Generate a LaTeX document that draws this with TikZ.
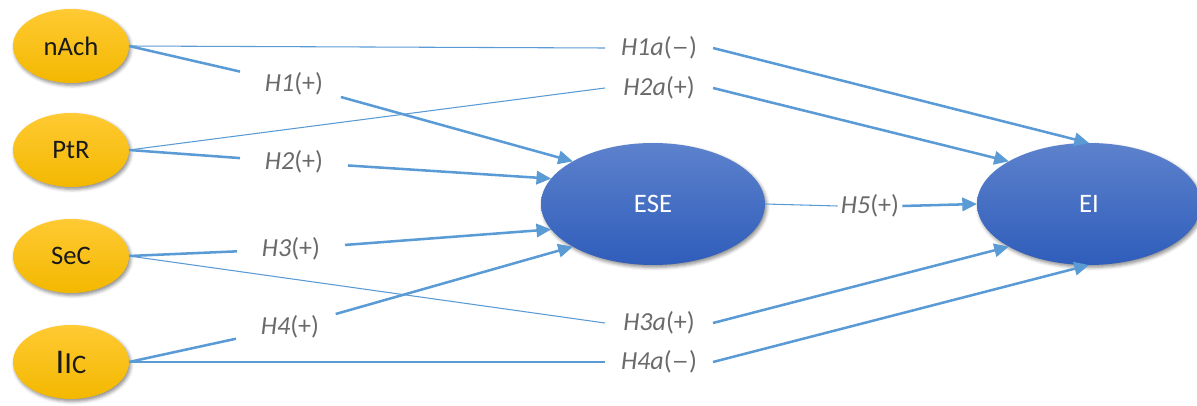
\documentclass[tikz,border=0pt]{standalone}
\usepackage{fontspec}
\setmainfont{Carlito}
\usetikzlibrary{arrows.meta,shadows.blur,shapes.geometric}
\definecolor{lineblue}{HTML}{5B9BD5}
\definecolor{labgray}{HTML}{6A6A6A}
\definecolor{goldtop}{HTML}{FFCA33}
\definecolor{goldbot}{HTML}{F3B800}
\definecolor{bluetop}{HTML}{5D82CD}
\definecolor{bluebot}{HTML}{2F5DBA}
\newcommand{\longdash}{\scalebox{1.35}[1]{–}}
\begin{document}
\begin{tikzpicture}[x=0.75pt,y=-0.75pt,
  srcnode/.style={ellipse, minimum width=87pt, minimum height=55.5pt, inner sep=0pt, outer sep=0pt,
    top color=goldtop, bottom color=goldbot, draw=none, text=black!90,
    font=\fontsize{20}{22}\selectfont,
    blur shadow={shadow xshift=1.2pt, shadow yshift=-1.8pt, shadow blur radius=2.5pt, shadow opacity=45}},
  bignode/.style={ellipse, minimum width=168pt, minimum height=91.5pt, inner sep=0pt, outer sep=0pt,
    top color=bluetop, bottom color=bluebot, draw=none, text=white,
    font=\fontsize{20}{22}\selectfont,
    blur shadow={shadow xshift=1.2pt, shadow yshift=-1.8pt, shadow blur radius=2.5pt, shadow opacity=45}},
  hlabel/.style={rectangle, minimum width=81pt, minimum height=19.5pt, inner sep=0pt, outer sep=0pt,
    text=labgray, font=\fontsize{19.5}{21}\selectfont},
  hfive/.style={rectangle, minimum height=19.5pt, inner xsep=2.5pt, inner ysep=0pt, outer sep=0pt,
    text=labgray, font=\fontsize{19.5}{21}\selectfont},
  thinline/.style={draw=lineblue, line width=0.8pt},
  thickline/.style={draw=lineblue, line width=1.9pt},
  arrowline/.style={draw=lineblue, line width=1.9pt, -{Triangle[length=11pt,width=10pt]}}
]
\useasboundingbox (0,0) rectangle (1197,406);

% source constructs
\node[srcnode] (nAch) at (71,46) {nAch};
\node[srcnode] (PtR) at (71,150) {PtR};
\node[srcnode] (SeC) at (71,256) {SeC};
\node[srcnode] (IIC) at (71,362) {{\fontsize{26}{26}\selectfont I}{\fontsize{23}{23}\selectfont I}C};

% mediator and outcome
\node[bignode] (ESE) at (653,204) {ESE};
\node[bignode] (EI) at (1089,204) {EI};

% hypothesis labels
\node[hlabel] (h1a) at (659,48) {\textit{H1a}(\longdash)};
\node[hlabel] (h2a) at (659,88) {\textit{H2a}(+)};
\node[hlabel] (h3a) at (659,323) {\textit{H3a}(+)};
\node[hlabel] (h4a) at (659,362) {\textit{H4a}(\longdash)};
\node[hlabel] (h1) at (294,84) {\textit{H1}(+)};
\node[hlabel] (h2) at (294,162) {\textit{H2}(+)};
\node[hlabel] (h3) at (291,249) {\textit{H3}(+)};
\node[hlabel] (h4) at (290,327) {\textit{H4}(+)};
\node[hfive] (h5) at (870,206) {\textit{H5}(+)};

% direct paths to EI
\draw[thinline] (nAch.east) -- (h1a.west);
\draw[arrowline] (h1a.east) -- (EI.90);
\draw[thinline] (PtR.east) -- (h2a.west);
\draw[arrowline] (h2a.east) -- (EI.152.6);
\draw[thinline] (SeC.east) -- (h3a.west);
\draw[arrowline] (h3a.east) -- (EI.208.5);
\draw[thinline] (IIC.east) -- (h4a.west);
\draw[arrowline] (h4a.east) -- (EI.270);

% paths to ESE
\draw[thickline] (nAch.east) -- (h1);
\draw[arrowline] (h1) -- (ESE.152.6);
\draw[thickline] (PtR.east) -- (h2);
\draw[arrowline] (h2) -- (ESE.166.9);
\draw[thickline] (SeC.east) -- (h3);
\draw[arrowline] (h3) -- (ESE.194.2);
\draw[thickline] (IIC.east) -- (h4);
\draw[arrowline] (h4) -- (ESE.208.5);

% ESE to EI
\draw[thinline] (ESE.east) -- (h5.west);
\draw[arrowline] (h5.east) -- (EI.west);
\end{tikzpicture}
\end{document}
